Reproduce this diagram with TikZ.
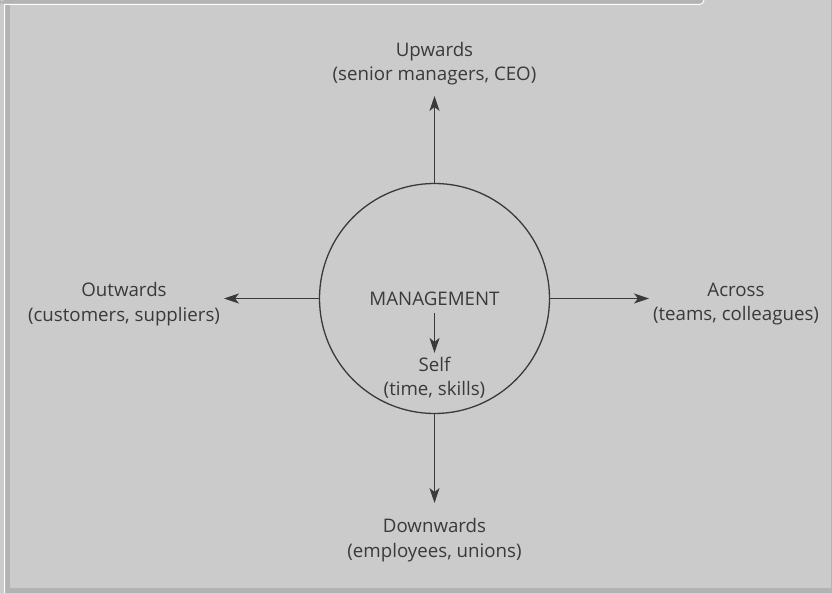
\documentclass[tikz,border=0pt]{standalone}
\usepackage{fontspec}
\setmainfont{Open Sans}
\usetikzlibrary{arrows.meta}
\definecolor{panel}{HTML}{CBCBCB}
\definecolor{band}{HTML}{B3B3B3}
\definecolor{ink}{HTML}{3A3A3A}
\begin{document}
\begin{tikzpicture}[x=1pt,y=-1pt,
  lbl/.style={align=center,text=ink,font=\fontsize{18.7}{24.5}\selectfont,inner sep=0pt},
  arr/.style={draw=ink,line width=1.3pt,-{Stealth[length=15pt,width=10pt,inset=4pt]}},
  hub/.style={circle,draw=ink,line width=1.3pt,minimum size=230pt,inner sep=0pt}]
\useasboundingbox (0,0) rectangle (832,593);
% panel and frame
\fill[panel] (0,0) rectangle (832,593);
\fill[band] (0,0) -- (704,0) [rounded corners=5pt] -- (704,4.5) -- (0,4.5) -- cycle;
\fill[band] (5,5) rectangle (10,593);
\fill[band] (5,588) rectangle (832,593);
\fill[band] (830.5,0) rectangle (832,593);
\draw[white,line width=1pt] (4.5,593) -- (4.5,4.5) -- (698,4.5)
  .. controls (702,4.5) and (704,2.5) .. (704,-1);
% hub and labels
\node[hub] (mgmt) at (434.5,298.5) {};
\node[lbl] (core) at (434.5,298.5) {MANAGEMENT};
\node[lbl] (self) at (434.5,378) {Self\\(time, skills)};
\node[lbl] (up) at (434.5,63.5) {Upwards\\(senior managers, CEO)};
\node[lbl] (down) at (434.5,540) {Downwards\\(employees, unions)};
\node[lbl] (outw) at (124,304) {Outwards\\(customers, suppliers)};
\node[lbl] (across) at (736,304) {Across\\(teams, colleagues)};
% arrow tips
\coordinate (uptip) at (434.5,96);
\coordinate (downtip) at (434.5,503);
\coordinate (outtip) at (224,298.5);
\coordinate (acrosstip) at (649,298.5);
% connectors
\draw[arr] (mgmt) -- (uptip);
\draw[arr] (mgmt) -- (downtip);
\draw[arr] (mgmt) -- (outtip);
\draw[arr] (mgmt) -- (acrosstip);
\draw[arr,shorten <=7pt,shorten >=4pt] (core) -- (self);
\end{tikzpicture}
\end{document}
